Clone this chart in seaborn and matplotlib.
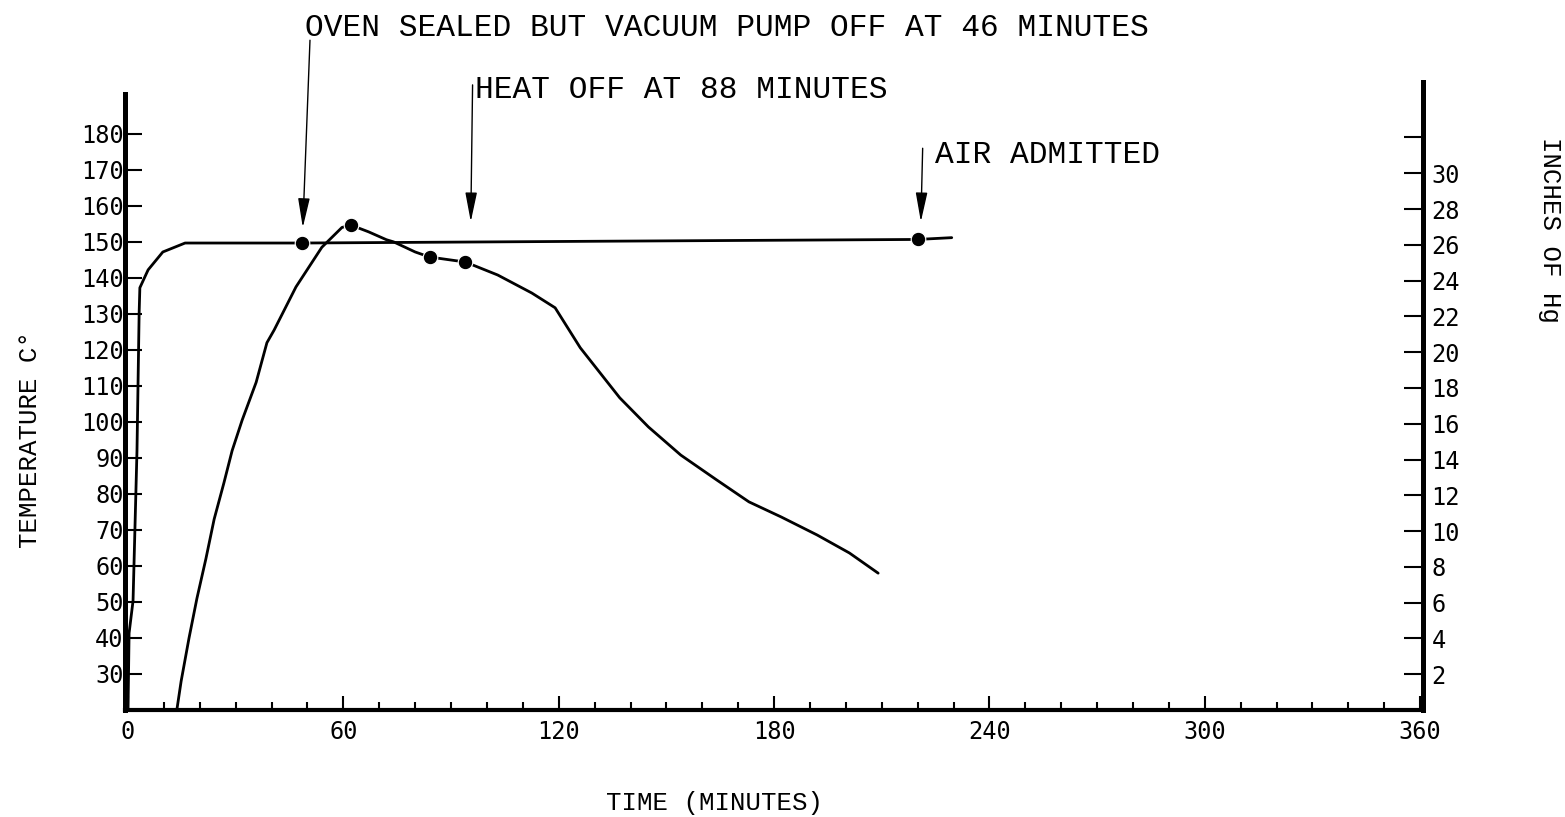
import matplotlib
matplotlib.use('Agg')
import matplotlib.pyplot as plt
import seaborn as sns
import pandas as pd

# temperature curve (deg C, left axis)
temp_time = [13.6, 14.8, 17, 19.2, 21.7, 24, 26.7, 29, 31.8, 35.7, 38.7, 40.7, 46.8, 54,
             59.6, 62, 67, 72, 74, 80, 84, 94, 103, 112.5, 119, 126, 137, 145, 154, 164,
             173, 182, 192, 201, 209]
temp_val = [20, 28, 40, 51, 62, 73, 83, 92, 100.5, 111, 122, 125.5, 137.5, 148.5,
            154, 154.7, 152.8, 150.6, 150, 147.2, 145.8, 144.4, 140.8, 135.8, 131.7, 120.6,
            106.7, 98.6, 90.8, 83.9, 77.8, 73.6, 68.6, 63.6, 58]
temp_dot_time = [62, 84, 94]
temp_dot_val = [154.7, 145.8, 144.4]

# vacuum curve (inches of Hg, right axis)
vac_time = [0, 0.3, 1.4, 2.5, 3.1, 3.3, 5.6, 9.7, 15.9, 48.5, 131.5, 220, 229.5]
vac_val = [0, 4.3, 6.1, 14.5, 22.2, 23.6, 24.6, 25.6, 26.1, 26.1, 26.2, 26.3, 26.4]
vac_dot_time = [48.5, 220]
vac_dot_val = [26.1, 26.3]

x_major = [0, 60, 120, 180, 240, 300, 360]
x_minor = list(range(0, 361, 10))
temp_ticks = list(range(30, 181, 10))
hg_ticks = list(range(2, 33, 2))
hg_labels = [str(v) for v in hg_ticks[:-1]] + ['']

sns.set_style('ticks')
plt.rcParams['font.family'] = ['Liberation Mono', 'DejaVu Sans Mono']
plt.rcParams['text.color'] = 'black'
plt.rcParams['xtick.color'] = 'black'
plt.rcParams['ytick.color'] = 'black'
plt.rcParams['axes.edgecolor'] = 'black'

fig = plt.figure(figsize=(15.65, 8.17), dpi=100)
ax = fig.add_axes([125 / 1565, 107 / 817, 1298 / 1565, 628 / 817])
ax2 = ax.twinx()

temp = pd.DataFrame({'t': temp_time, 'v': temp_val})
vac = pd.DataFrame({'t': vac_time, 'v': vac_val})
sns.lineplot(data=temp, x='t', y='v', ax=ax, color='black', lw=2, sort=False)
sns.scatterplot(x=temp_dot_time, y=temp_dot_val, ax=ax, color='black', s=110, zorder=5)
sns.lineplot(data=vac, x='t', y='v', ax=ax2, color='black', lw=2, sort=False)
sns.scatterplot(x=vac_dot_time, y=vac_dot_val, ax=ax2, color='black', s=110, zorder=5)

ax.set_xlim(-0.84, 360.8)
ax.set_ylim(20, 194.4)
ax2.set_ylim(0, 35.1)

ax.set_xticks(x_major)
ax.set_xticks(x_minor, minor=True)
ax.set_yticks(temp_ticks)
ax2.set_yticks(hg_ticks)
ax2.set_yticklabels(hg_labels)

ax.tick_params(axis='y', direction='in', length=12, width=1.5, pad=1, labelsize=17)
ax.tick_params(axis='x', which='major', direction='in', length=10, width=1.5, pad=7,
               labelsize=17)
ax.tick_params(axis='x', which='minor', direction='in', length=6, width=1.5)
ax2.tick_params(axis='y', direction='in', length=14, width=1.5, pad=6, labelsize=17)
for lab in ax.get_xticklabels() + ax.get_yticklabels() + ax2.get_yticklabels():
    lab.set_fontfamily('DejaVu Sans Mono')

ax.set_xlabel('')
ax.set_ylabel('')
ax2.set_ylabel('')

for s in ['top', 'right']:
    ax.spines[s].set_visible(False)
for s in ['top', 'left', 'bottom']:
    ax2.spines[s].set_visible(False)
ax.spines['left'].set_linewidth(3.6)
ax.spines['left'].set_bounds(20, 191)
ax.spines['bottom'].set_linewidth(3)
ax2.spines['right'].set_linewidth(3.6)

# annotations
arrow = dict(arrowstyle='-|>,head_length=0.9,head_width=0.18', color='black', lw=1.0,
             shrinkA=0, shrinkB=0, mutation_scale=20)
ax.annotate('', xy=(48.7, 154), xytext=(50.7, 206), arrowprops=arrow,
            annotation_clip=False)
ax.annotate('', xy=(95.5, 155.6), xytext=(96, 193.6), arrowprops=arrow,
            annotation_clip=False)
ax.annotate('', xy=(220.9, 155.6), xytext=(221.4, 176), arrowprops=arrow,
            annotation_clip=False)

fig.text(305 / 1565, 1 - 28 / 817, 'OVEN SEALED BUT VACUUM PUMP OFF AT 46 MINUTES',
         fontsize=22.5, ha='left', va='center')
fig.text(475 / 1565, 1 - 90 / 817, 'HEAT OFF AT 88 MINUTES',
         fontsize=22.5, ha='left', va='center')
fig.text(935 / 1565, 1 - 155 / 817, 'AIR ADMITTED',
         fontsize=22.5, ha='left', va='center')

fig.text(30 / 1565, 1 - 440 / 817, 'TEMPERATURE C°', rotation=90,
         fontsize=18.5, ha='center', va='center')
fig.text(1550 / 1565, 1 - 230 / 817, 'INCHES OF Hg', rotation=-90,
         fontsize=18.5, ha='center', va='center')
fig.text(715 / 1565, 1 - 803 / 817, 'TIME (MINUTES)',
         fontsize=18.5, ha='center', va='center')

fig.savefig('out.png', dpi=100)
